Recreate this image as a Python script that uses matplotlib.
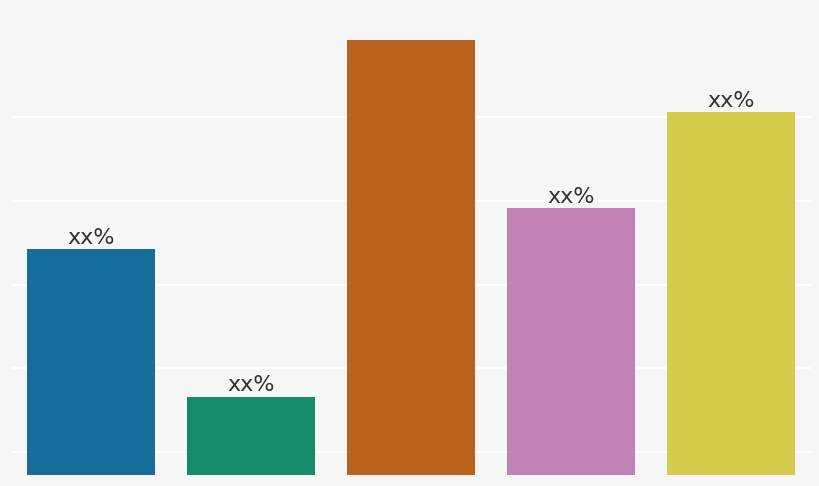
import matplotlib.pyplot as plt
import seaborn as sns

categories = ['A', 'B', 'C', 'D', 'E']
values = [34.2, 16.6, 59.2, 39.1, 50.6]
labels = ['xx%', 'xx%', '', 'xx%', 'xx%']
grid_ticks = [10, 20, 30, 40, 50]

pal = sns.color_palette('colorblind')
colors = [sns.desaturate(pal[i], 0.75) for i in (0, 2, 3, 4, 8)]
bg = '#f6f6f6'

fig = plt.figure(figsize=(8.2, 4.86), dpi=100, facecolor=bg)
ax = fig.add_axes([0, 11 / 486, 1, 475 / 486])
ax.set_facecolor(bg)

x = list(range(len(categories)))
bars = ax.bar(x, values, width=0.8, color=colors, zorder=2)

for t in grid_ticks:
    ax.axhline(t, xmin=13 / 820, xmax=810 / 820, color='white', lw=1.3, zorder=1)

for b, lab in zip(bars, labels):
    if lab:
        ax.annotate(lab, (b.get_x() + b.get_width() / 2, b.get_height()),
                    xytext=(0, 1), textcoords='offset points',
                    ha='center', va='bottom', fontsize=16, color='#333333')

ax.set_xlim(-91 / 160, 729 / 160)
ax.set_ylim(7.25, 64)
ax.axis('off')

fig.savefig('out.png', dpi=100, facecolor=bg)
